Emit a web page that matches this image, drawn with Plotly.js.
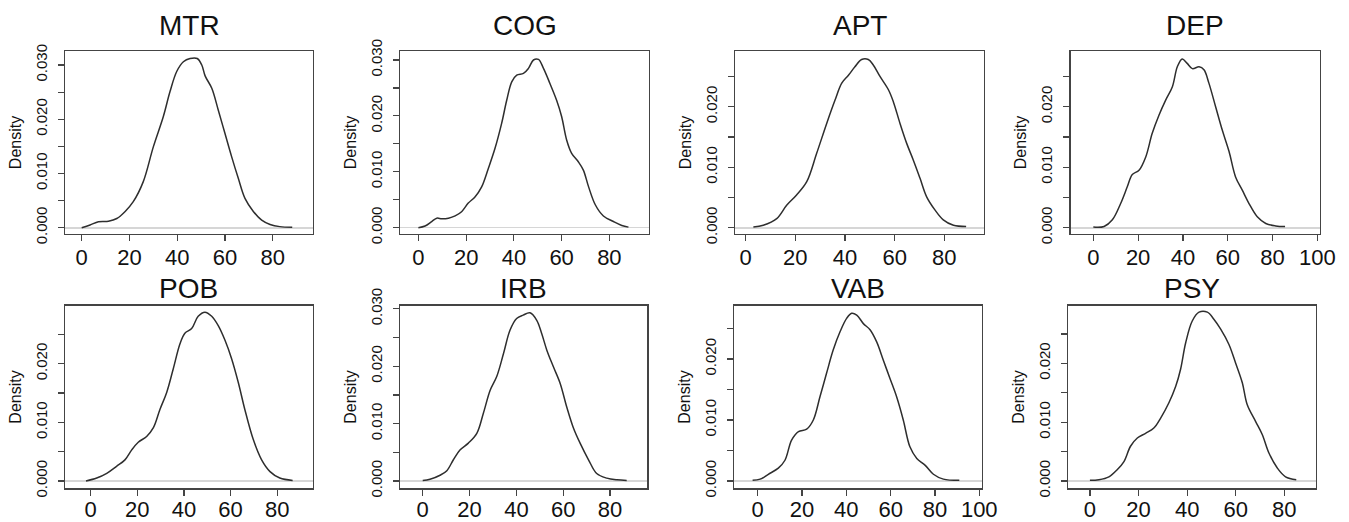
<!DOCTYPE html>
<html>
<head>
<meta charset="utf-8">
<script src="https://cdn.plot.ly/plotly-3.0.1.min.js"></script>
<style>
  html, body { margin: 0; padding: 0; background: #ffffff; }
  #chart { width: 1349px; height: 522px; }
</style>
</head>
<body>
<div id="chart"></div>
<script>
// ---------- data ----------
const panelNames = ['MTR', 'COG', 'APT', 'DEP', 'POB', 'IRB', 'VAB', 'PSY'];

const mtrX = [0, 3.5, 7, 11.2, 14.7, 18.2, 21.6, 25.8, 30, 34.2, 37, 39.8, 42.6, 45.4, 48.4, 50.3, 51.7, 54.5, 57.2, 60, 62.8, 65.6, 68.4, 71.9, 75.4, 78.9, 83, 88.2];
const mtrY = [0, 0.0005, 0.0011, 0.0012, 0.0017, 0.003, 0.0048, 0.0085, 0.0149, 0.0205, 0.0251, 0.0288, 0.0306, 0.0312, 0.0312, 0.0300, 0.0280, 0.0257, 0.0217, 0.0174, 0.0131, 0.0091, 0.0054, 0.003, 0.0014, 0.0006, 0.0002, 0.0001];

const cogX = [0, 2.8, 5.6, 7.7, 9.8, 12.6, 15.4, 18.2, 20.9, 23.7, 26.5, 29.3, 32.1, 34.9, 37, 39.1, 41.2, 44, 46.1, 48.2, 50.3, 52.4, 55.1, 57.9, 60, 62.1, 64.2, 67, 69.1, 71.3, 74.1, 77.5, 81.7, 85.2, 88];
const cogY = [0, 0.0003, 0.0011, 0.0017, 0.0016, 0.0017, 0.0021, 0.0029, 0.0044, 0.0055, 0.0073, 0.0106, 0.0142, 0.0187, 0.0228, 0.0261, 0.0273, 0.0276, 0.0285, 0.030, 0.0301, 0.0285, 0.0258, 0.0228, 0.0199, 0.0157, 0.0133, 0.0118, 0.0103, 0.0073, 0.0041, 0.0021, 0.0011, 0.0004, 0.0001];

const aptX = [3.1, 7.1, 12.5, 16.5, 20.5, 24.6, 28.6, 32.6, 36, 38.7, 41.4, 44, 46.7, 49.4, 51.4, 54.1, 57.5, 59.5, 62.2, 64.9, 67.5, 70.2, 72.9, 76.3, 79.6, 83.7, 88.8];
const aptY = [0.0001, 0.0004, 0.0015, 0.0037, 0.0054, 0.0076, 0.0123, 0.0172, 0.0211, 0.0239, 0.0252, 0.0266, 0.0278, 0.0278, 0.0269, 0.025, 0.0228, 0.0208, 0.0172, 0.0139, 0.0112, 0.0082, 0.0051, 0.0029, 0.0013, 0.0004, 0.0002];

const depX = [0, 4.8, 8.5, 12.2, 15.2, 17.4, 20.4, 23.4, 26.3, 29.3, 32.3, 35.3, 37.5, 39.7, 41.8, 44.2, 47.2, 49.4, 51.6, 54.6, 57.6, 60.6, 63.5, 66.5, 69.5, 73.2, 77, 81.4, 85.6];
const depY = [0.0001, 0.0002, 0.0013, 0.004, 0.0068, 0.0088, 0.0095, 0.0117, 0.0156, 0.0186, 0.0211, 0.0233, 0.0266, 0.0279, 0.0272, 0.0263, 0.0266, 0.0261, 0.0239, 0.020, 0.0161, 0.0126, 0.0084, 0.0062, 0.004, 0.0018, 0.0007, 0.0003, 0.0002];

const pobX = [-2, 2.6, 6.9, 11.1, 14.7, 17.6, 20.4, 24, 26.9, 29.7, 32.6, 35.4, 38.3, 40.4, 43.3, 46.1, 49, 51.9, 54.7, 57.6, 60.4, 63.3, 66.1, 69.7, 73.3, 76.9, 81.1, 86.6];
const pobY = [0, 0.0005, 0.0013, 0.0025, 0.0036, 0.0053, 0.0066, 0.0076, 0.0091, 0.0122, 0.0151, 0.0191, 0.0234, 0.0252, 0.026, 0.0281, 0.0288, 0.0281, 0.0265, 0.024, 0.0209, 0.0168, 0.0122, 0.0071, 0.0036, 0.0016, 0.0005, 0.0001];

const irbX = [0, 3.1, 7.4, 10.3, 13.1, 15.9, 19.5, 23.1, 25.9, 28.8, 31.6, 34.5, 37.3, 40.1, 42.9, 45.8, 48.7, 50.8, 53, 55.8, 58.7, 61.5, 64.4, 67.2, 70.8, 74.3, 78.6, 82.9, 87.1];
const irbY = [0.0001, 0.0003, 0.001, 0.0018, 0.0037, 0.0054, 0.0066, 0.0083, 0.0118, 0.0158, 0.0182, 0.0222, 0.0263, 0.0283, 0.0289, 0.0293, 0.028, 0.0257, 0.0228, 0.0199, 0.017, 0.0129, 0.0092, 0.0066, 0.0037, 0.0013, 0.0005, 0.0002, 0.0001];

const vabX = [-2.3, 1.1, 4.8, 9.3, 12.3, 15.3, 18.4, 22.1, 25.1, 28.1, 31.1, 34.1, 37.2, 40.2, 42.4, 44.7, 47.7, 50.7, 53.7, 56.7, 59.7, 62.7, 65.7, 68.7, 71.8, 75.5, 79.3, 83.8, 91];
const vabY = [0.0001, 0.0003, 0.0011, 0.0021, 0.0034, 0.0067, 0.0081, 0.0085, 0.010, 0.0138, 0.0177, 0.0215, 0.0245, 0.0267, 0.0275, 0.0272, 0.0258, 0.0248, 0.0228, 0.0198, 0.0168, 0.0138, 0.010, 0.0056, 0.0037, 0.0026, 0.0011, 0.0003, 0.0001];

const psyX = [0, 3.7, 7.8, 11.2, 14, 16.7, 19.5, 22.9, 26.3, 29.1, 32.5, 35.3, 37.3, 39.4, 42.1, 44.9, 48.3, 51, 53.8, 57.2, 59.9, 62.7, 64.7, 68.2, 70.9, 73.7, 77.1, 80.5, 84.9];
const psyY = [0.0001, 0.0002, 0.0007, 0.0019, 0.0033, 0.0059, 0.0073, 0.0081, 0.009, 0.0107, 0.0133, 0.0161, 0.019, 0.0235, 0.0272, 0.0287, 0.0287, 0.0275, 0.0258, 0.0232, 0.0201, 0.0167, 0.013, 0.0101, 0.0079, 0.0047, 0.0022, 0.0007, 0.0002];

const seriesX = [mtrX, cogX, aptX, depX, pobX, irbX, vabX, psyX];
const seriesY = [mtrY, cogY, aptY, depY, pobY, irbY, vabY, psyY];

const xTickVals = [0, 20, 40, 60, 80, 100];
const yTickVals = [0, 0.005, 0.010, 0.015, 0.020, 0.025, 0.030];
const yTickText = ['0.000', '', '0.010', '', '0.020', '', '0.030'];
const yAxisLabel = 'Density';

// ---------- layout config ----------
const W = 1349, H = 522;
// panel boxes in pixels [left, right, top, bottom]
const boxes = [
  [65, 313, 51, 234], [400, 649, 51, 234], [735, 984, 51, 234], [1070.7, 1320, 51, 234],
  [65, 312.7, 305.7, 488.3], [400, 647.3, 305.7, 488.3], [734, 981.7, 305.7, 488.3], [1068.3, 1315.7, 305.7, 488.3]
];
const xRanges = [[-7.0, 96.9], [-7.7, 96.6], [-4.3, 96.0], [-10.1, 101.2], [-11.0, 95.2], [-9.7, 95.9], [-10.7, 101.1], [-8.9, 92.9]];
const yRanges = [[-0.00116, 0.03258], [-0.00113, 0.03161], [-0.00104, 0.02921], [-0.00104, 0.02921],
                 [-0.00125, 0.0299], [-0.00127, 0.03054], [-0.0012, 0.02874], [-0.00125, 0.0298]];
const titleY = [26, 26, 26, 26, 288, 288, 288, 288];

const FONT = 'Liberation Sans, Arial, Helvetica, sans-serif';
const AXC = '#444444';

const traces = [];
const layout = {
  width: W, height: H,
  margin: { l: 0, r: 0, t: 0, b: 0 },
  paper_bgcolor: '#ffffff',
  plot_bgcolor: '#ffffff',
  showlegend: false,
  font: { family: FONT, color: '#111111' },
  annotations: []
};

panelNames.forEach((name, i) => {
  const k = i === 0 ? '' : String(i + 1);
  const b = boxes[i];
  const row2 = i >= 4;
  traces.push({
    type: 'scatter', mode: 'lines',
    x: seriesX[i], y: seriesY[i],
    xaxis: 'x' + k, yaxis: 'y' + k,
    line: { color: '#2e2e2e', width: 1.5, shape: 'spline', smoothing: 1 },
    hoverinfo: 'x+y'
  });
  layout['xaxis' + k] = {
    domain: [b[0] / W, b[1] / W],
    range: xRanges[i],
    anchor: 'y' + k,
    showgrid: false, zeroline: false,
    showline: true, mirror: true, linecolor: AXC, linewidth: 1.3,
    ticks: 'outside', ticklen: 6, tickwidth: 1.2, tickcolor: AXC,
    tickmode: 'array', tickvals: xTickVals,
    tickfont: { family: FONT, size: 22, color: '#111111' },
    ticklabelstandoff: row2 ? -5 : -3,
    fixedrange: true
  };
  layout['yaxis' + k] = {
    domain: [1 - b[3] / H, 1 - b[2] / H],
    range: yRanges[i],
    anchor: 'x' + k,
    showgrid: false,
    zeroline: true, zerolinecolor: '#d6d6d6', zerolinewidth: 1.6,
    showline: true, mirror: true, linecolor: AXC, linewidth: 1.3,
    ticks: 'outside', ticklen: 6, tickwidth: 1.2, tickcolor: AXC,
    tickmode: 'array', tickvals: yTickVals, ticktext: yTickText,
    tickangle: -90,
    tickfont: { family: FONT, size: 15, color: '#111111' },
    ticklabelstandoff: 5,
    title: { text: yAxisLabel, font: { family: FONT, size: 16, color: '#111111' }, standoff: 7 },
    fixedrange: true
  };
  layout.annotations.push({
    text: name,
    xref: 'paper', yref: 'paper',
    x: (b[0] + b[1]) / 2 / W, y: 1 - titleY[i] / H,
    xanchor: 'center', yanchor: 'middle',
    showarrow: false,
    font: { family: FONT, size: 28, color: '#111111' }
  });
});

Plotly.newPlot('chart', traces, layout, { displayModeBar: false, staticPlot: true });
</script>
</body>
</html>
